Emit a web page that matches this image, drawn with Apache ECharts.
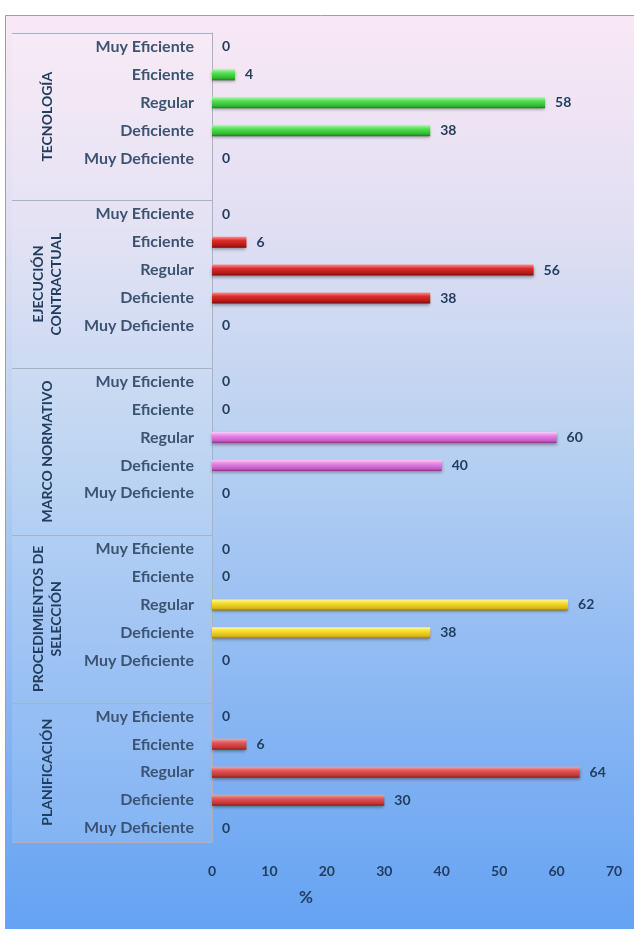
<!DOCTYPE html>
<html>
<head>
<meta charset="utf-8">
<script src="https://cdn.jsdelivr.net/npm/echarts@6/dist/echarts.min.js"></script>
<style>
  html, body { margin: 0; padding: 0; background: #ffffff; }
  #chart { width: 634px; height: 929px; }
</style>
</head>
<body>
<div id="chart"></div>
<script>
// Rating levels, listed top to bottom inside every group
const levels = ['Muy Eficiente', 'Eficiente', 'Regular', 'Deficiente', 'Muy Deficiente'];

// Groups, top to bottom (two-line names use \n)
const groupLabels = ['TECNOLOGÍA', 'EJECUCIÓN\nCONTRACTUAL', 'MARCO NORMATIVO', 'PROCEDIMIENTOS DE\nSELECCIÓN', 'PLANIFICACIÓN'];

// Percentages per level, one array per group
const tecnologia = [0, 4, 58, 38, 0];
const ejecucionContractual = [0, 6, 56, 38, 0];
const marcoNormativo = [0, 0, 60, 40, 0];
const procedimientosSeleccion = [0, 0, 62, 38, 0];
const planificacion = [0, 6, 64, 30, 0];

// Value axis ticks
const xTicks = [0, 10, 20, 30, 40, 50, 60, 70];
const axisTitle = '%';

const groupValues = [tecnologia, ejecucionContractual, marcoNormativo, procedimientosSeleccion, planificacion];

// Cylinder-like shading for each group's bars
const barShades = [
  ['#a6f7a6', '#52de52', '#30b830', '#1b781b'],
  ['#f39292', '#dc2c2c', '#b51616', '#700b0b'],
  ['#f8cdf8', '#e585e5', '#c75ac7', '#883888'],
  ['#fff7a6', '#f6dc2c', '#dab912', '#967c08'],
  ['#f6a4a4', '#e05858', '#c23535', '#822020']
];
function shade(c) {
  return new echarts.graphic.LinearGradient(0, 0, 0, 1, [
    { offset: 0, color: c[0] },
    { offset: 0.35, color: c[1] },
    { offset: 0.8, color: c[2] },
    { offset: 1, color: c[3] }
  ]);
}

// One category row per level, plus a spacer row after every group but the last
const rowKeys = [];
const rowLabels = [];
const barData = [];
const groupSpans = [];
groupLabels.forEach((g, gi) => {
  const start = rowKeys.length;
  levels.forEach((lv, li) => {
    rowKeys.push(gi + '|' + lv);
    rowLabels.push(lv);
    barData.push({ value: groupValues[gi][li], itemStyle: { color: shade(barShades[gi]) } });
  });
  if (gi < groupLabels.length - 1) {
    rowKeys.push(gi + '|');
    rowLabels.push('');
    barData.push({ value: '-' });
  }
  groupSpans.push([0, start, rowKeys.length - 1, gi]);
});

const navy = '#223d5e';
const font = 'Lato';

const chart = echarts.init(document.getElementById('chart'), null, { renderer: 'canvas' });

chart.setOption({
  backgroundColor: '#ffffff',
  animation: false,
  graphic: [
    {
      type: 'rect',
      z: -10,
      shape: { x: 5.5, y: 15.5, width: 640, height: 930 },
      style: {
        fill: new echarts.graphic.LinearGradient(0, 0, 0, 1, [
          { offset: 0, color: '#f9e8f5' },
          { offset: 0.22, color: '#e2dff3' },
          { offset: 0.45, color: '#bad2f1' },
          { offset: 0.7, color: '#8fbaf3' },
          { offset: 1, color: '#62a1f2' }
        ]),
        stroke: '#a0a0a0',
        lineWidth: 1
      }
    },
    {
      type: 'text',
      left: 299,
      top: 889,
      style: { text: axisTitle, fill: navy, font: 'bold 17px ' + font }
    }
  ],
  grid: { left: 212, top: 33, right: 20, bottom: 929 - 842 },
  xAxis: {
    type: 'value',
    min: xTicks[0],
    max: xTicks[xTicks.length - 1],
    interval: xTicks[1] - xTicks[0],
    axisLine: { show: false },
    axisTick: { show: false },
    splitLine: { show: false },
    axisLabel: { color: navy, fontSize: 14, fontWeight: 'bold', fontFamily: font, margin: 22 }
  },
  yAxis: {
    type: 'category',
    inverse: true,
    data: rowKeys,
    axisLine: { show: true, lineStyle: { color: '#a7b3c4', width: 1 } },
    axisTick: { show: false },
    splitLine: { show: false },
    axisLabel: {
      color: navy,
      fontSize: 16,
      fontWeight: 'bold',
      fontFamily: font,
      margin: 18,
      interval: 0,
      formatter: (v, i) => rowLabels[i]
    }
  },
  series: [
    {
      // label panel, group separators and rotated group names
      type: 'custom',
      clip: false,
      silent: true,
      z: 1,
      encode: { x: 0, y: 1 },
      data: groupSpans,
      renderItem: (params, api) => {
        const s = api.value(1), e = api.value(2), gi = api.value(3);
        const band = api.size([0, 1])[1];
        const p0 = api.coord([0, s]);
        const top = p0[1] - band / 2;
        const bottom = api.coord([0, e])[1] + band / 2;
        const axisX = p0[0];
        const left = 12;
        const children = [
          { type: 'rect', shape: { x: left, y: top, width: axisX - left, height: bottom - top },
            style: { fill: 'rgba(255,255,255,0.12)' } },
          { type: 'line', shape: { x1: left, y1: Math.round(top) + 0.5, x2: axisX, y2: Math.round(top) + 0.5 },
            style: { stroke: '#a7b3c4', lineWidth: 1 } },
          { type: 'text', x: 47, y: (top + bottom) / 2, rotation: Math.PI / 2,
            style: { text: groupLabels[gi], fill: navy, font: 'bold 14px ' + font,
                     align: 'center', verticalAlign: 'middle', lineHeight: 18 } }
        ];
        if (gi === groupLabels.length - 1) {
          children.push({ type: 'line', shape: { x1: left, y1: Math.round(bottom) + 0.5, x2: axisX, y2: Math.round(bottom) + 0.5 },
            style: { stroke: '#a7b3c4', lineWidth: 1 } });
        }
        return { type: 'group', children };
      }
    },
    {
      type: 'bar',
      z: 3,
      barWidth: 11,
      data: barData,
      itemStyle: {
        shadowColor: 'rgba(0,0,0,0.35)',
        shadowBlur: 3,
        shadowOffsetY: 2
      },
      label: {
        show: true,
        position: 'right',
        distance: 10,
        color: navy,
        fontSize: 14,
        fontWeight: 'bold',
        fontFamily: font,
        formatter: p => (p.value === '-' ? '' : String(p.value))
      }
    }
  ]
});
</script>
</body>
</html>
